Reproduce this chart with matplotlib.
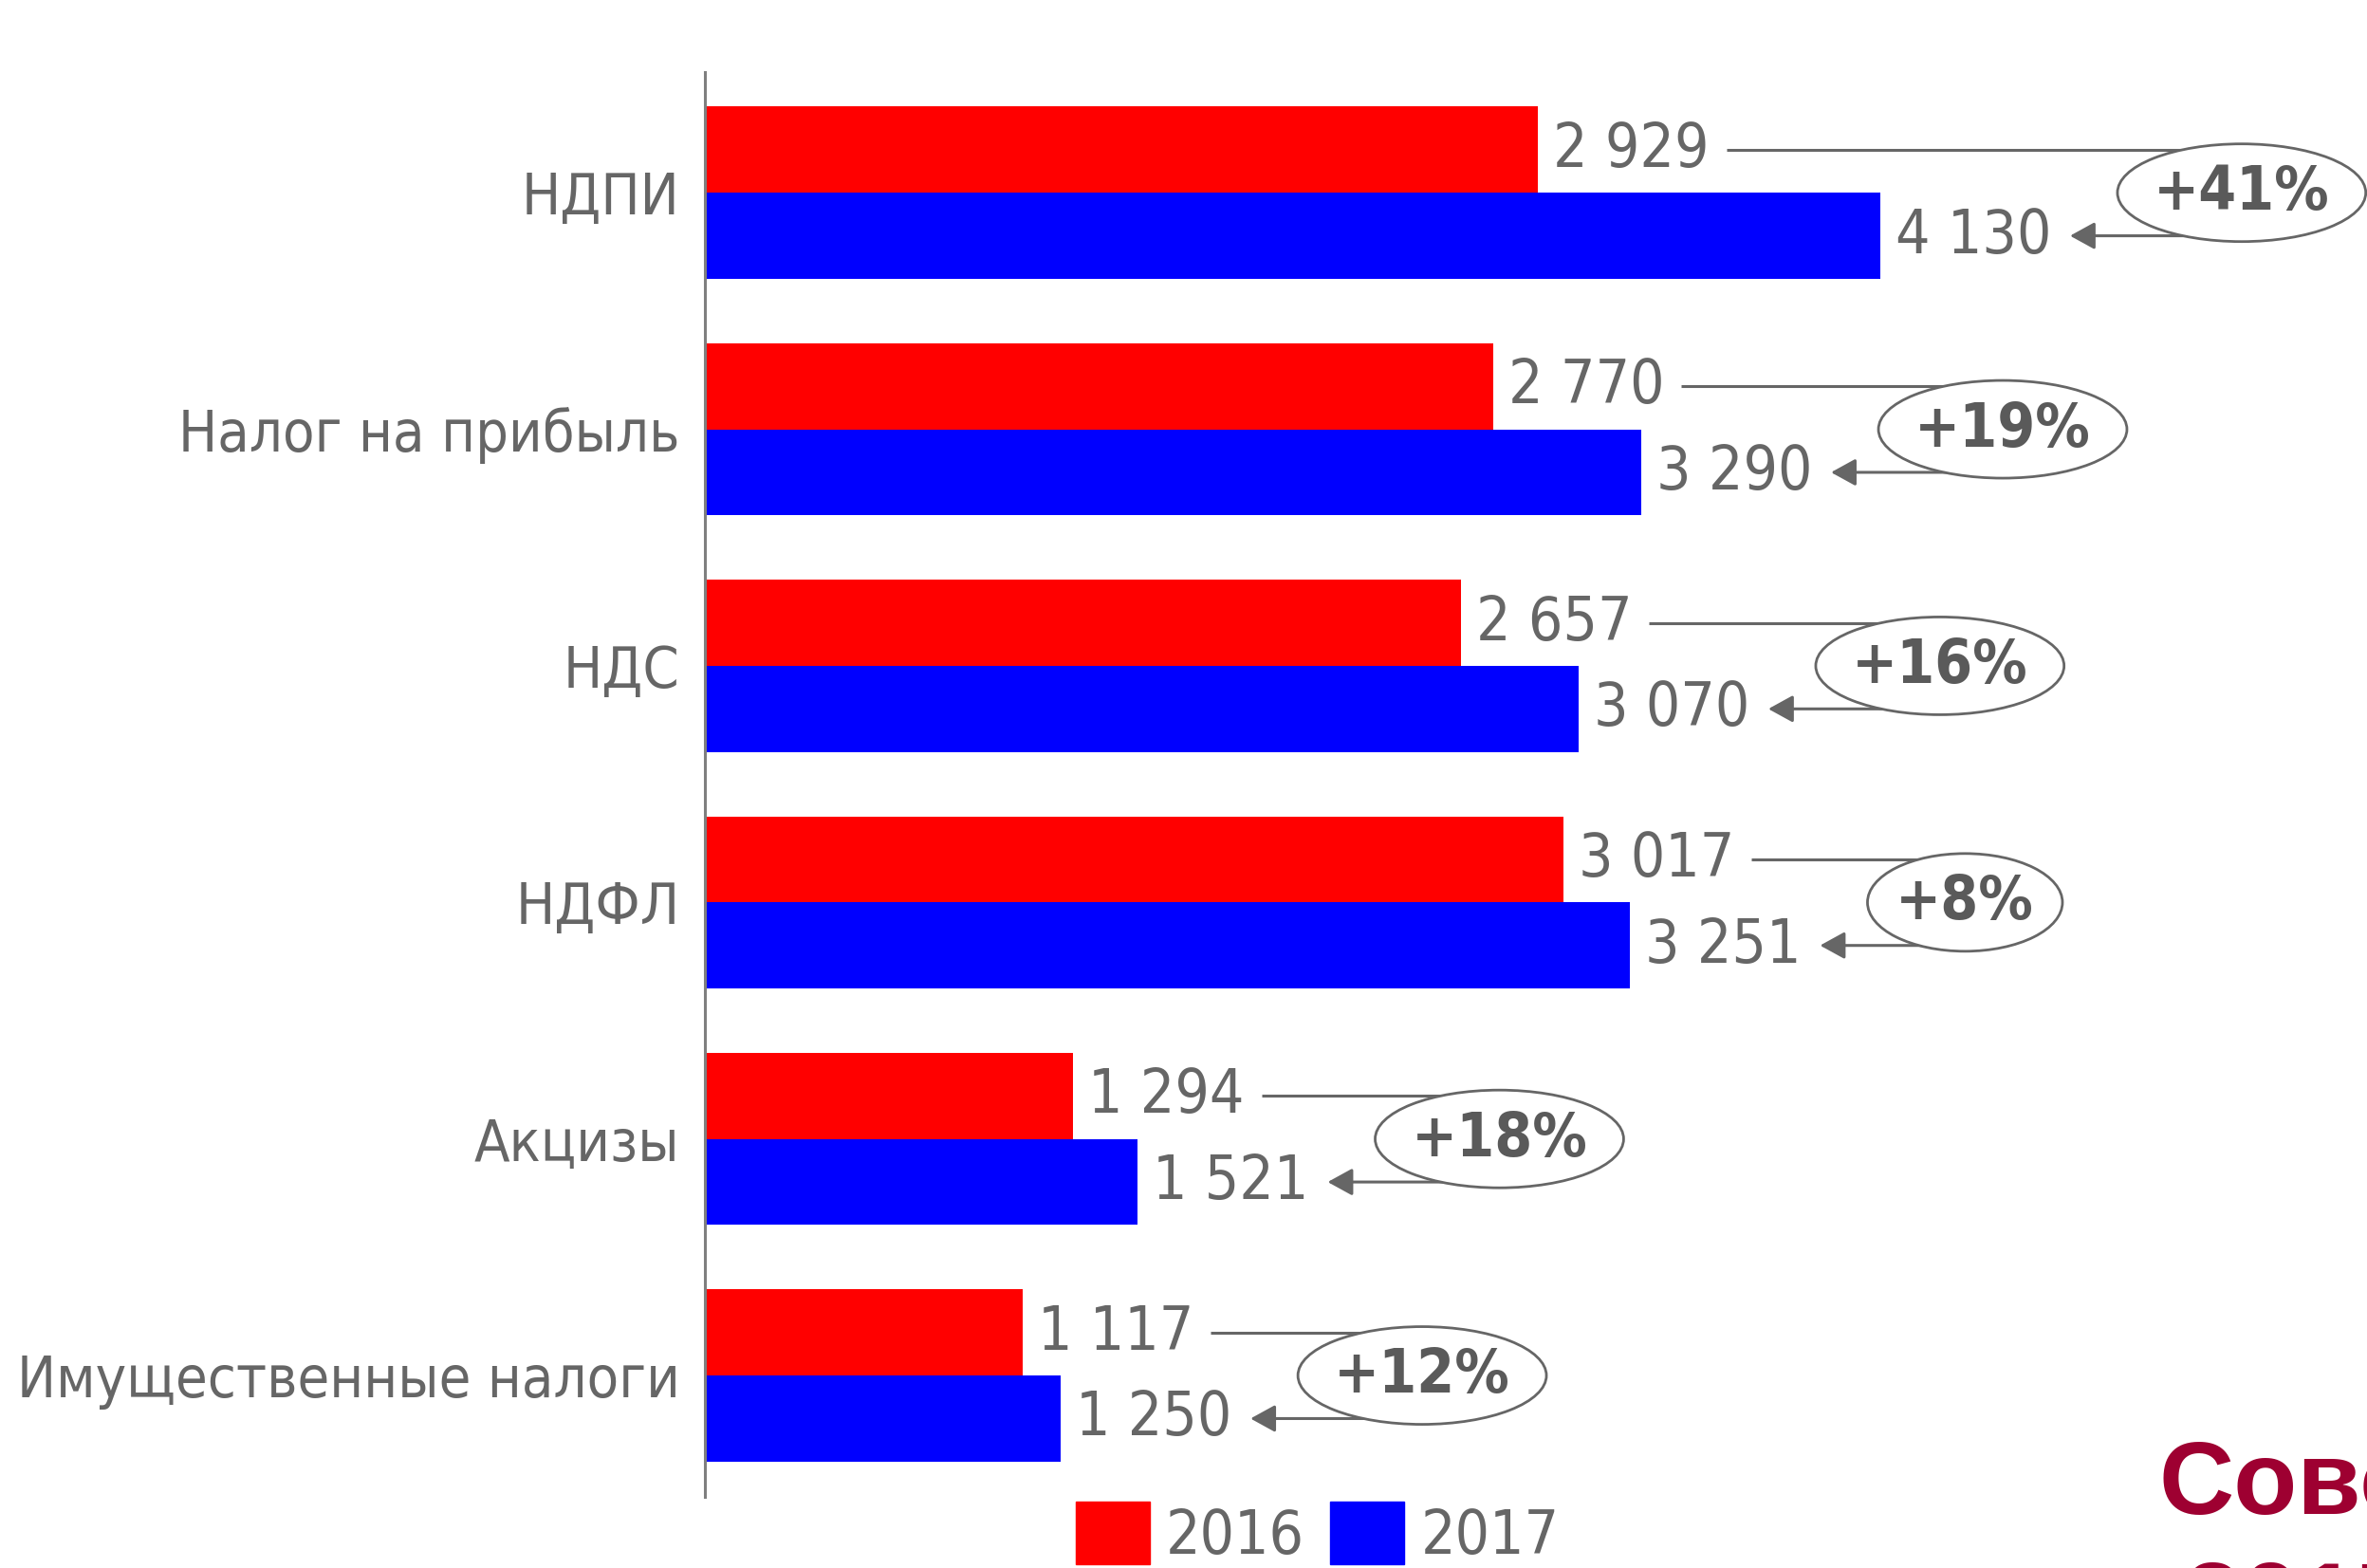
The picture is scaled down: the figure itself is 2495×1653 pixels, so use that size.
import matplotlib
matplotlib.use('Agg')
import matplotlib.pyplot as plt
from matplotlib.patches import Ellipse, Patch
import numpy as np

categories = ['НДПИ', 'Налог на прибыль', 'НДС', 'НДФЛ', 'Акцизы', 'Имущественные налоги']
values_2016 = [2929, 2770, 2657, 3017, 1294, 1117]
values_2017 = [4130, 3290, 3070, 3251, 1521, 1250]
labels_2016 = ['2 929', '2 770', '2 657', '3 017', '1 294', '1 117']
labels_2017 = ['4 130', '3 290', '3 070', '3 251', '1 521', '1 250']
growth_labels = ['+41%', '+19%', '+16%', '+8%', '+18%', '+12%']
series_names = ['2016', '2017']
side_title = ['Совокупно', '2017 г.']

W, H = 2495, 1653
DPI = 100
GREY = '#666666'
FONT = dict(family='DejaVu Sans', stretch='condensed')

fig = plt.figure(figsize=(W / DPI, H / DPI), dpi=DPI)
ax_left, ax_top, ax_bot = 743, 76, 1578
ax = fig.add_axes([ax_left / W, 1 - ax_bot / H, 1 - ax_left / W, (ax_bot - ax_top) / H])

y = np.arange(len(categories))
h = 0.364
ax.barh(y - h / 2, values_2016, height=h, color='#FF0000', zorder=2)
ax.barh(y + h / 2, values_2017, height=h, color='#0000FF', zorder=2)
ax.set_xlim(0, (W - ax_left) / 0.2999)
ax.set_ylim(len(categories) - 0.487, -0.51)

for s in ['top', 'right', 'bottom']:
    ax.spines[s].set_visible(False)
ax.spines['left'].set_color('#7f7f7f')
ax.spines['left'].set_linewidth(2.2)
ax.set_xticks([])
ax.set_yticks(y)
ax.set_yticklabels(categories, fontsize=44, color=GREY, **FONT)
ax.tick_params(axis='y', length=0, pad=19)

px = 0.72  # points per pixel at 100 dpi
red_txt, blue_txt, pct_txt = [], [], []
for i in range(len(categories)):
    red_txt.append(ax.annotate(labels_2016[i], xy=(values_2016[i], y[i] - h / 2),
                               xytext=(16 * px, 0), textcoords='offset points',
                               ha='left', va='center', fontsize=46, color=GREY, **FONT))
    blue_txt.append(ax.annotate(labels_2017[i], xy=(values_2017[i], y[i] + h / 2),
                                xytext=(16 * px, 0), textcoords='offset points',
                                ha='left', va='center', fontsize=46, color=GREY, **FONT))
    pct_txt.append(ax.text(0, y[i], growth_labels[i], ha='center', va='center',
                           fontsize=46, fontweight='bold', color='#5a5a5a', zorder=6,
                           clip_on=False, **FONT))

fig.canvas.draw()
r = fig.canvas.get_renderer()
inv = ax.transData.inverted()
to_disp = ax.transData.transform

for i in range(len(categories)):
    rb = red_txt[i].get_window_extent(r)
    bb = blue_txt[i].get_window_extent(r)
    pb = pct_txt[i].get_window_extent(r)
    yr = to_disp((0, y[i] - h / 2))[1]
    yb = to_disp((0, y[i] + h / 2))[1]
    yc = to_disp((0, y[i]))[1]
    ew = pb.width * 1.41
    eh = 103
    cx = bb.x1 + 70 + ew / 2
    cxd, ycd = inv.transform((cx, yc))
    x0d, _ = inv.transform((cx - ew / 2, yc))
    _, y0d = inv.transform((cx, yc - eh / 2))
    wd = 2 * (cxd - x0d)
    hd = 2 * abs(ycd - y0d)
    # top connector
    xs, _ = inv.transform((rb.x1 + 18, yr))
    ax.plot([xs, cxd], [y[i] - h / 2, y[i] - h / 2], color=GREY, lw=2.2,
            zorder=3, clip_on=False, solid_capstyle='butt')
    ax.plot([cxd, cxd], [y[i] - h / 2, y[i] + h / 2], color=GREY, lw=2.2,
            zorder=3, clip_on=False)
    # bottom arrow
    xt, _ = inv.transform((bb.x1 + 20, yb))
    ax.annotate('', xy=(xt, y[i] + h / 2), xytext=(cxd, y[i] + h / 2),
                arrowprops=dict(arrowstyle='-|>,head_length=0.4,head_width=0.22',
                                color=GREY, lw=2.2,
                                mutation_scale=40, shrinkA=0, shrinkB=0),
                zorder=3, annotation_clip=False)
    ax.add_patch(Ellipse((cxd, ycd), wd, hd, facecolor='white', edgecolor=GREY,
                         lw=2.0, zorder=5, clip_on=False))
    pct_txt[i].set_position((cxd, ycd))

fig.legend(handles=[Patch(color='#FF0000'), Patch(color='#0000FF')], labels=series_names,
           loc='upper left', bbox_to_anchor=(1134 / W, 1 - 1583 / H), ncol=2, frameon=False,
           prop=dict(size=46, **FONT), labelcolor=GREY, handlelength=1.22, handleheight=1.22,
           handletextpad=0.27, columnspacing=0.42, borderpad=0, borderaxespad=0)

fig.text(2276 / W, 1 - 1596 / H, side_title[0], ha='left', va='baseline',
         fontsize=79, fontweight='bold', color='#9E0031', family='Liberation Sans')
fig.text(2302 / W, 1 - 1724 / H, side_title[1], ha='left', va='baseline',
         fontsize=79, fontweight='bold', color='#9E0031', family='Liberation Sans')

fig.savefig('out.png', dpi=DPI)
